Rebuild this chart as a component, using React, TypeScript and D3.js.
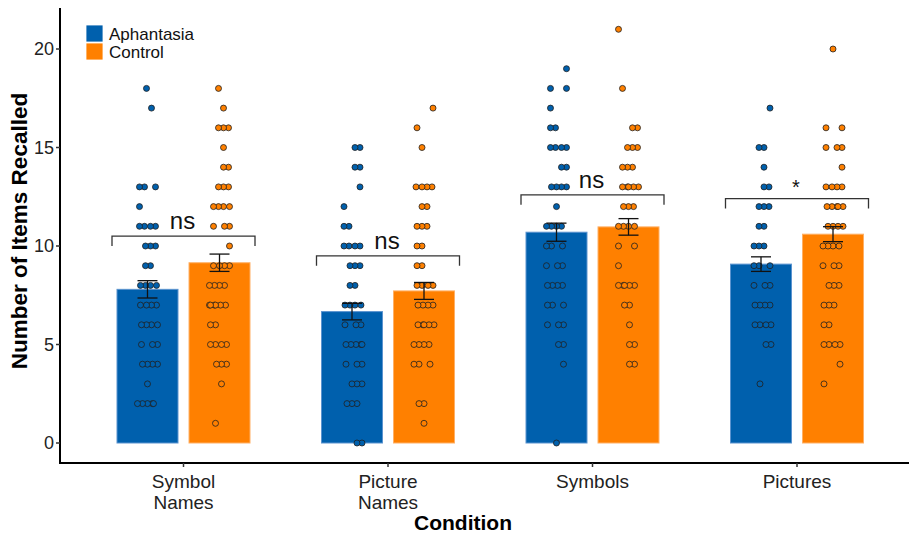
import React from "react";
import * as d3 from "d3";

const conditions = ["Symbol Names", "Picture Names", "Symbols", "Pictures"];
const conditionLabels = [["Symbol", "Names"], ["Picture", "Names"], ["Symbols"], ["Pictures"]];
const groups = ["Aphantasia", "Control"];
const groupColors = ["#0060ad", "#ff8000"];

// bar heights (means) and standard errors
const aphantasiaMean = [7.8, 6.67, 10.7, 9.08];
const aphantasiaSe = [0.44, 0.42, 0.46, 0.37];
const controlMean = [9.15, 7.72, 10.97, 10.6];
const controlSe = [0.44, 0.43, 0.42, 0.38];

// individual scores
const aphSymbolNames = [18, 17, 13, 13, 13, 12, 11, 11, 11, 11, 10, 10, 10, 9, 9, 8, 8, 8, 8, 7, 7, 7, 7, 6, 6, 6, 6, 5, 5, 5, 4, 4, 4, 4, 3, 2, 2, 2, 2, 2];
const conSymbolNames = [18, 17, 16, 16, 16, 15, 14, 14, 13, 13, 13, 12, 12, 12, 12, 11, 11, 11, 10, 9, 9, 9, 9, 8, 8, 8, 8, 7, 7, 7, 7, 7, 7, 6, 6, 5, 5, 5, 5, 4, 4, 4, 3, 1];
const aphPictureNames = [15, 15, 14, 14, 13, 12, 11, 11, 10, 10, 10, 10, 9, 9, 9, 8, 8, 7, 7, 7, 7, 6, 6, 6, 5, 5, 5, 5, 5, 4, 4, 4, 3, 3, 3, 2, 2, 2, 0, 0];
const conPictureNames = [17, 16, 15, 13, 13, 13, 13, 12, 12, 11, 11, 11, 10, 10, 9, 9, 8, 8, 8, 8, 7, 7, 7, 7, 6, 6, 6, 6, 6, 5, 5, 5, 5, 4, 4, 4, 2, 2, 1];
const aphSymbols = [19, 18, 18, 17, 16, 16, 15, 15, 15, 15, 14, 14, 13, 13, 13, 13, 12, 11, 11, 11, 11, 10, 10, 10, 9, 9, 9, 8, 8, 8, 8, 7, 7, 7, 6, 6, 6, 5, 5, 4, 0];
const conSymbols = [21, 18, 16, 16, 15, 15, 15, 14, 14, 14, 13, 13, 13, 13, 13, 12, 12, 12, 11, 11, 11, 11, 10, 10, 9, 8, 8, 8, 8, 8, 7, 7, 6, 5, 5, 4, 4];
const aphPictures = [17, 15, 15, 14, 13, 13, 12, 12, 12, 11, 11, 10, 10, 10, 9, 9, 9, 8, 8, 8, 7, 7, 7, 7, 6, 6, 6, 6, 5, 5, 3];
const conPictures = [20, 16, 16, 15, 15, 15, 14, 13, 13, 13, 13, 12, 12, 12, 12, 12, 11, 11, 11, 11, 10, 10, 10, 10, 9, 9, 9, 8, 8, 8, 7, 7, 7, 6, 6, 5, 5, 5, 5, 4, 3];

const scores = [
  [aphSymbolNames, conSymbolNames],
  [aphPictureNames, conPictureNames],
  [aphSymbols, conSymbols],
  [aphPictures, conPictures],
];

const bracketLevel = [10.5, 9.5, 12.6, 12.4];
const bracketLabel = ["ns", "ns", "ns", "*"];
const yTicks = [0, 5, 10, 15, 20];

const W = 909;
const H = 536;
const FONT = "'Liberation Sans', Arial, Helvetica, sans-serif";

export default function App() {
  const axisX = 60;
  const axisY = 463;

  const y = d3.scaleLinear().domain([0, 20]).range([443, 49]);
  const x = d3.scaleBand().domain(conditions).range([81.25, 899.25]);
  const inner = d3.scaleBand().domain(groups).range([-66.5, 66.5]).paddingInner(0.153);
  const bw = inner.bandwidth();

  const means = [aphantasiaMean, controlMean];
  const ses = [aphantasiaSe, controlSe];

  const center = (c: string) => (x(c) as number) + x.bandwidth() / 2;
  const barX = (c: string, g: string) => center(c) + (inner(g) as number);

  // deterministic spread of points sharing a score
  const jitter = (i: number, v: number) => (((i * 37 + v * 11) % 21) - 10);

  return (
    <svg width={W} height={H} style={{ position: "absolute", left: 0, top: 0, fontFamily: FONT }}>
      <rect width={W} height={H} fill="#fff" />

      {/* bars */}
      {conditions.map((c, ci) =>
        groups.map((g, gi) => (
          <rect
            key={c + g}
            x={barX(c, g)}
            y={y(means[gi][ci])}
            width={bw}
            height={y(0) - y(means[gi][ci])}
            fill={groupColors[gi]}
            stroke={gi === 0 ? "#5b93cf" : "#ffb066"}
            strokeWidth={1}
          />
        ))
      )}

      {/* points */}
      {conditions.map((c, ci) =>
        groups.map((g, gi) =>
          scores[ci][gi].map((v, i) => (
            <circle
              key={c + g + i}
              cx={barX(c, g) + bw / 2 + jitter(i, v)}
              cy={y(v)}
              r={3}
              fill={groupColors[gi]}
              stroke="#1f1f1f"
              strokeWidth={0.8}
            />
          ))
        )
      )}

      {/* error bars */}
      {conditions.map((c, ci) =>
        groups.map((g, gi) => {
          const cx = barX(c, g) + bw / 2;
          const hi = y(means[gi][ci] + ses[gi][ci]);
          const lo = y(means[gi][ci] - ses[gi][ci]);
          return (
            <g key={c + g} stroke="#111" strokeWidth={1.3}>
              <line x1={cx} x2={cx} y1={hi} y2={lo} />
              <line x1={cx - 10} x2={cx + 10} y1={hi} y2={hi} />
              <line x1={cx - 10} x2={cx + 10} y1={lo} y2={lo} />
            </g>
          );
        })
      )}

      {/* significance brackets */}
      {conditions.map((c, ci) => {
        const x1 = barX(c, groups[0]) - 5;
        const x2 = barX(c, groups[1]) + bw + 5;
        const yy = y(bracketLevel[ci]);
        const yd = y(bracketLevel[ci] - 0.5);
        const star = bracketLabel[ci] === "*";
        return (
          <g key={c}>
            <path d={`M${x1},${yd}V${yy}H${x2}V${yd}`} fill="none" stroke="#333" strokeWidth={1.3} />
            <text
              x={center(c) - 1}
              y={star ? yy - 5 : yy - 7}
              textAnchor="middle"
              fontSize={star ? 20 : 24}
              fill="#111"
            >
              {bracketLabel[ci]}
            </text>
          </g>
        );
      })}

      {/* y axis */}
      <line x1={axisX} x2={axisX} y1={8} y2={axisY} stroke="#000" strokeWidth={2} />
      {yTicks.map((t) => (
        <g key={t}>
          <line x1={axisX - 4} x2={axisX} y1={y(t)} y2={y(t)} stroke="#333" strokeWidth={1.5} />
          <text x={axisX - 6} y={y(t)} dy="0.36em" textAnchor="end" fontSize={18} fill="#222">
            {t}
          </text>
        </g>
      ))}
      <text
        transform={`translate(27,231) rotate(-90)`}
        textAnchor="middle"
        fontSize={22.5}
        fontWeight="bold"
        fill="#000"
      >
        Number of Items Recalled
      </text>

      {/* x axis */}
      <line x1={axisX - 1} x2={W} y1={axisY} y2={axisY} stroke="#000" strokeWidth={2} />
      {conditions.map((c, ci) => (
        <g key={c}>
          <line x1={center(c)} x2={center(c)} y1={axisY} y2={axisY + 4} stroke="#333" strokeWidth={1.5} />
          {conditionLabels[ci].map((l, li) => (
            <text key={l} x={center(c)} y={axisY + 25 + li * 21} textAnchor="middle" fontSize={19} fill="#222">
              {l}
            </text>
          ))}
        </g>
      ))}
      <text x={463} y={530} textAnchor="middle" fontSize={21} fontWeight="bold" fill="#000">
        Condition
      </text>

      {/* legend */}
      {groups.map((g, gi) => (
        <g key={g}>
          <rect x={86} y={25 + gi * 18} width={17} height={17} fill={groupColors[gi]} stroke="#fff" strokeWidth={0.8} />
          <text x={109} y={40 + gi * 18} fontSize={17} fill="#111">
            {g}
          </text>
        </g>
      ))}
    </svg>
  );
}
